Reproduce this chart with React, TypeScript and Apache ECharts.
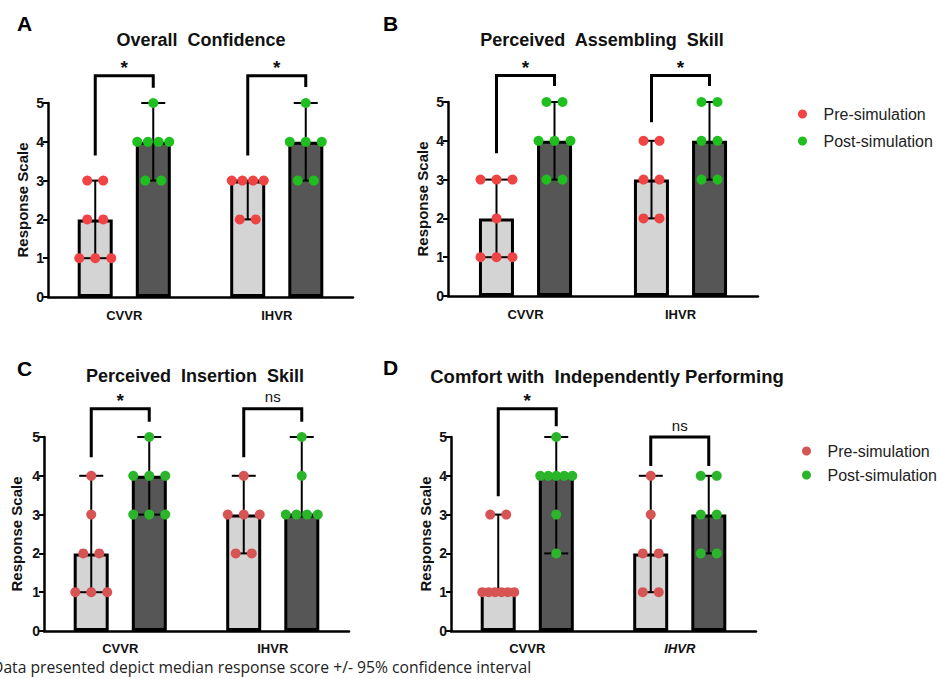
import React, { useEffect, useRef } from "react";
import * as echarts from "echarts";

const categories = ["CVVR", "IHVR"];
const panelLetters = ["A", "B", "C", "D"];
const panelTitles = [
  "Overall  Confidence",
  "Perceived  Assembling  Skill",
  "Perceived  Insertion  Skill",
  "Comfort with  Independently Performing",
];
const legendNames = ["Pre-simulation", "Post-simulation"];

// individual responses per panel: [CVVR, IHVR]
const preResponses = [
  [[3, 3, 2, 2, 1, 1, 1], [3, 3, 3, 3, 2, 2]],
  [[3, 3, 3, 2, 1, 1, 1], [4, 4, 3, 3, 2, 2]],
  [[4, 3, 2, 2, 1, 1, 1], [4, 3, 3, 3, 2, 2]],
  [[3, 3, 1, 1, 1, 1, 1, 1], [4, 3, 2, 2, 1, 1]],
];
const postResponses = [
  [[5, 4, 4, 4, 4, 3, 3], [5, 4, 4, 4, 3, 3]],
  [[5, 5, 4, 4, 4, 3, 3], [5, 5, 4, 4, 3, 3]],
  [[5, 4, 4, 4, 3, 3, 3], [5, 4, 3, 3, 3, 3]],
  [[5, 4, 4, 4, 4, 4, 3, 2], [4, 4, 3, 3, 2, 2]],
];
const preMedian = [[2, 3], [2, 3], [2, 3], [1, 2]];
const postMedian = [[4, 4], [4, 4], [4, 3], [4, 3]];
const preLow = [[1, 2], [1, 2], [1, 2], [1, 1]];
const preHigh = [[3, 3], [3, 4], [4, 4], [3, 4]];
const postLow = [[3, 3], [3, 3], [3, 3], [2, 2]];
const postHigh = [[5, 5], [5, 5], [5, 5], [5, 4]];

const sigLabels = [["*", "*"], ["*", "*"], ["*", "ns"], ["*", "ns"]];
const bracketTop = [[5.7, 5.7], [5.68, 5.68], [5.73, 5.73], [5.73, 5.0]];
const bracketLeftEnd = [[3.65, 3.65], [3.68, 4.48], [4.48, 4.48], [3.47, 4.25]];
const bracketRightEnd = [[5.39, 5.41], [5.41, 5.41], [5.39, 5.39], [5.28, 4.25]];
const yTicks = [0, 1, 2, 3, 4, 5];
const footnote = "Data presented depict median response score +/- 95% confidence interval";

// layout
const grids = [
  { left: 48, top: 103, width: 305, height: 194 },
  { left: 448, top: 102, width: 310, height: 194 },
  { left: 44, top: 437, width: 305, height: 194 },
  { left: 451, top: 437, width: 305, height: 194 },
];
const nameGaps = [18, 18, 20, 18];
const xLabelMargins = [12, 12, 11, 11];
const letterPos = [[17, 25], [383, 25], [17, 370], [383, 369]];
const titlePos = [[201, 31], [602, 31], [195, 367], [607, 367]];
const titleSizes = [18, 18, 18, 18.5];
const topColors = { pre: "#f04444", post: "#1fbf1f" };
const bottomColors = { pre: "#d75454", post: "#2bb52b" };

const OFFSET = 29;
const FONT = "Liberation Sans, Arial, sans-serif";

function jitter(values: number[]) {
  const counts: Record<number, number> = {};
  values.forEach((v) => (counts[v] = (counts[v] || 0) + 1));
  const seen: Record<number, number> = {};
  return values.map((v) => {
    const n = counts[v];
    const i = seen[v] || 0;
    seen[v] = i + 1;
    const s = n > 1 ? Math.min(16, 32 / (n - 1)) : 0;
    return (i - (n - 1) / 2) * s;
  });
}

function dotData(groups: number[][]) {
  const out: number[][] = [];
  groups.forEach((vals, cat) => {
    const j = jitter(vals);
    vals.forEach((v, k) => out.push([cat, v, j[k]]));
  });
  return out;
}

export default function App() {
  const ref = useRef<HTMLDivElement>(null);
  useEffect(() => {
    document.body.style.margin = "0";
    const chart = echarts.init(ref.current!, null, { renderer: "svg" });
    const series: any[] = [];
    const xAxis: any[] = [];
    const yAxis: any[] = [];
    const title: any[] = [];

    for (let p = 0; p < 4; p++) {
      const colors = p < 2 ? topColors : bottomColors;
      xAxis.push({
        type: "category",
        gridIndex: p,
        data: categories,
        axisLine: { lineStyle: { color: "#000", width: 2.5 } },
        axisTick: { show: false },
        axisLabel: {
          margin: xLabelMargins[p],
          color: "#111",
          fontSize: 13,
          fontWeight: "bold",
          fontFamily: FONT,
          formatter: (v: string) => (p === 3 && v === "IHVR" ? "{it|" + v + "}" : v),
          rich: { it: { fontStyle: "italic", fontWeight: "bold", fontSize: 13, fontFamily: FONT, color: "#111" } },
        },
      });
      yAxis.push({
        type: "value",
        gridIndex: p,
        min: yTicks[0],
        max: yTicks[yTicks.length - 1],
        interval: 1,
        name: "Response Scale",
        nameLocation: "middle",
        nameGap: nameGaps[p],
        nameTextStyle: { fontSize: 15, fontWeight: "bold", color: "#111", fontFamily: FONT },
        splitLine: { show: false },
        axisLine: { show: true, lineStyle: { color: "#000", width: 2.5 } },
        axisTick: { show: true, length: 5, lineStyle: { color: "#000", width: 2 } },
        axisLabel: { margin: 4, color: "#111", fontSize: 14, fontWeight: "bold", fontFamily: FONT },
      });
      title.push({
        text: panelTitles[p],
        left: titlePos[p][0],
        top: titlePos[p][1],
        textAlign: "center",
        padding: 0,
        textStyle: {
          fontSize: titleSizes[p],
          fontWeight: "bold",
          color: "#111",
          fontFamily: FONT,
        },
      });

      series.push({
        type: "bar",
        name: "pre-median",
        xAxisIndex: p,
        yAxisIndex: p,
        data: preMedian[p],
        barWidth: 35,
        barGap: "66%",
        z: 1,
        itemStyle: { color: "#d4d4d4", borderColor: "#000", borderWidth: 3 },
        silent: true,
      });
      series.push({
        type: "bar",
        name: "post-median",
        xAxisIndex: p,
        yAxisIndex: p,
        data: postMedian[p],
        barWidth: 35,
        barGap: "66%",
        z: 1,
        itemStyle: { color: "#565656", borderColor: "#000", borderWidth: 3 },
        silent: true,
      });
      const ebData = [
        [0, preLow[p][0], preHigh[p][0], -1],
        [1, preLow[p][1], preHigh[p][1], -1],
        [0, postLow[p][0], postHigh[p][0], 1],
        [1, postLow[p][1], postHigh[p][1], 1],
      ];
      series.push({
        type: "custom",
        name: "ci",
        xAxisIndex: p,
        yAxisIndex: p,
        data: ebData,
        encode: { x: 0, y: [1, 2] },
        z: 5,
        silent: true,
        renderItem: (params: any, api: any) => {
          const lo = api.coord([api.value(0), api.value(1)]);
          const hi = api.coord([api.value(0), api.value(2)]);
          const x = lo[0] + api.value(3) * OFFSET;
          const st = { stroke: "#000", lineWidth: 2 };
          return {
            type: "group",
            children: [
              { type: "line", shape: { x1: x, y1: lo[1], x2: x, y2: hi[1] }, style: st },
              { type: "line", shape: { x1: x - 12, y1: lo[1], x2: x + 12, y2: lo[1] }, style: st },
              { type: "line", shape: { x1: x - 12, y1: hi[1], x2: x + 12, y2: hi[1] }, style: st },
            ],
          };
        },
      });
      [
        { name: legendNames[0], data: dotData(preResponses[p]), side: -1, color: colors.pre },
        { name: legendNames[1], data: dotData(postResponses[p]), side: 1, color: colors.post },
      ].forEach((g) => {
        series.push({
          type: "custom",
          name: g.name,
          xAxisIndex: p,
          yAxisIndex: p,
          data: g.data,
          encode: { x: 0, y: 1 },
          itemStyle: { color: g.color },
          z: 6,
          silent: true,
          renderItem: (params: any, api: any) => {
            const c = api.coord([api.value(0), api.value(1)]);
            return {
              type: "circle",
              shape: { cx: c[0] + g.side * OFFSET + api.value(2), cy: c[1], r: 5 },
              style: { fill: g.color },
            };
          },
        });
      });
      series.push({
        type: "custom",
        name: "significance",
        xAxisIndex: p,
        yAxisIndex: p,
        clip: false,
        z: 7,
        silent: true,
        data: [0, 1].map((c) => [c, bracketTop[p][c], bracketLeftEnd[p][c], bracketRightEnd[p][c]]),
        encode: { x: 0, y: [1, 2, 3] },
        renderItem: (params: any, api: any) => {
          const cat = api.value(0);
          const top = api.coord([cat, api.value(1)]);
          const l = api.coord([cat, api.value(2)]);
          const r = api.coord([cat, api.value(3)]);
          const xl = top[0] - OFFSET;
          const xr = top[0] + OFFSET;
          const label = sigLabels[p][params.dataIndex];
          const isStar = label === "*";
          return {
            type: "group",
            children: [
              {
                type: "polyline",
                shape: { points: [[xl, l[1]], [xl, top[1]], [xr, top[1]], [xr, r[1]]] },
                style: { stroke: "#000", lineWidth: 3, fill: "none" },
              },
              {
                type: "text",
                style: {
                  text: label,
                  x: top[0],
                  y: top[1] - (isStar ? 8 : 12),
                  align: "center",
                  verticalAlign: "middle",
                  fontSize: isStar ? 19 : 15,
                  fontWeight: isStar ? "bold" : "normal",
                  fontFamily: FONT,
                  fill: "#111",
                },
              },
            ],
          };
        },
      });
    }

    const legendBase = {
      orient: "vertical",
      icon: "circle",
      itemWidth: 32,
      itemHeight: 9,
      padding: 0,
      selectedMode: false,
      textStyle: { fontSize: 16, color: "#222", fontFamily: FONT, lineHeight: 18 },
    };

    chart.setOption({
      animation: false,
      backgroundColor: "#fff",
      title,
      grid: grids.map((g) => ({ ...g, containLabel: false })),
      xAxis,
      yAxis,
      legend: [
        {
          ...legendBase,
          left: 798,
          top: 105,
          itemGap: 9,
          data: [
            { name: legendNames[0], itemStyle: { color: topColors.pre } },
            { name: legendNames[1], itemStyle: { color: topColors.post } },
          ],
        },
        {
          ...legendBase,
          left: 802,
          top: 442,
          itemGap: 6,
          data: [
            { name: legendNames[0], itemStyle: { color: bottomColors.pre } },
            { name: legendNames[1], itemStyle: { color: bottomColors.post } },
          ],
        },
      ],
      graphic: [
        ...panelLetters.map((t, i) => ({
          type: "text",
          left: letterPos[i][0],
          top: letterPos[i][1] - 12,
          style: { text: t, fontSize: 21, fontWeight: "bold", fontFamily: FONT, fill: "#000" },
        })),
        {
          type: "text",
          left: -8,
          top: 659,
          style: {
            text: footnote,
            fontSize: 15.7,
            fontFamily: "Open Sans, sans-serif",
            fill: "#222",
          },
        },
      ],
      series,
    });
    return () => chart.dispose();
  }, []);
  return <div ref={ref} style={{ width: 937, height: 679 }} />;
}
